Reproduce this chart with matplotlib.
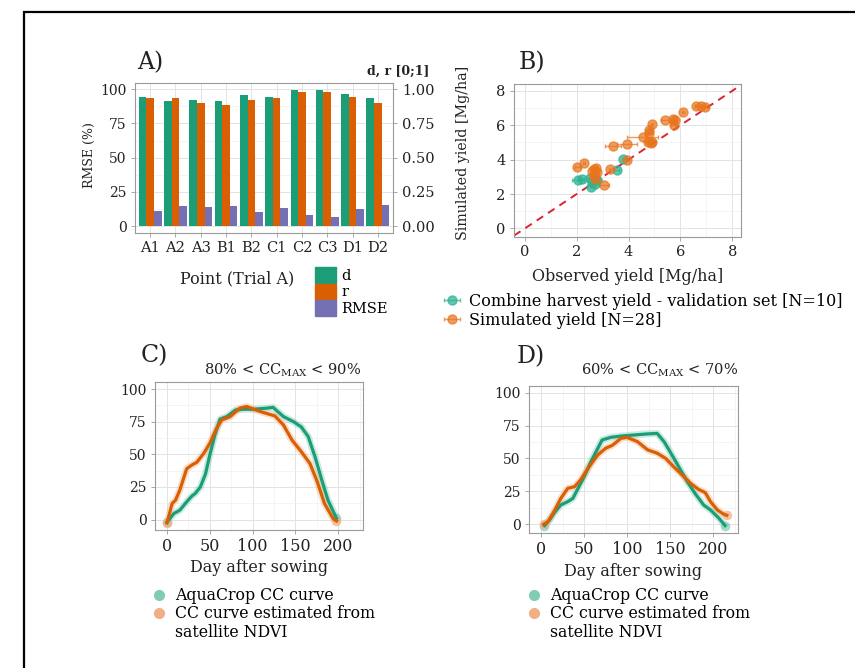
import numpy as np
import matplotlib
matplotlib.use("Agg")
import matplotlib.pyplot as plt
from matplotlib.patches import Rectangle, Patch
from matplotlib.lines import Line2D
from matplotlib.ticker import MultipleLocator

plt.rcParams['font.family'] = ['DejaVu Serif']
plt.rcParams['mathtext.fontset'] = 'dejavuserif'

# ---------------- data ----------------
points   = ["A1", "A2", "A3", "B1", "B2", "C1", "C2", "C3", "D1", "D2"]
d_index  = [0.944, 0.915, 0.922, 0.915, 0.956, 0.944, 0.995, 0.995, 0.963, 0.934]
r_index  = [0.934, 0.934, 0.902, 0.883, 0.922, 0.934, 0.976, 0.976, 0.944, 0.902]
rmse_pct = [11.0, 14.9, 14.1, 14.9, 10.5, 13.4, 7.8, 6.6, 12.4, 15.6]

obs_green  = [3.80, 3.55, 2.05, 2.20, 2.50, 2.70, 2.77, 2.55, 2.70, 2.60]
sim_green  = [4.02, 3.38, 2.80, 2.85, 2.96, 3.00, 2.81, 2.38, 2.60, 2.70]
xerr_green = [0.05, 0.10, 0.25, 0.10, 0.05, 0.10, 0.15, 0.05, 0.05, 0.05]

obs_orange  = [6.60, 6.80, 6.95, 6.10, 5.40, 5.70, 5.75, 4.90, 4.80, 4.80, 4.55, 4.75, 4.90, 3.95,
               3.40, 3.95, 3.30, 2.28, 2.03, 2.65, 2.75, 2.60, 3.05, 2.70, 2.65, 4.85, 5.80, 2.80]
sim_orange  = [7.10, 7.10, 7.05, 6.75, 6.30, 6.35, 6.00, 6.05, 5.70, 5.55, 5.30, 5.00, 5.00, 4.90,
               4.80, 3.98, 3.43, 3.78, 3.55, 3.45, 3.50, 3.35, 2.50, 2.90, 3.05, 4.95, 6.30, 3.30]
xerr_orange = [0.05, 0.25, 0.10, 0.05, 0.15, 0.05, 0.10, 0.05, 0.05, 0.05, 0.60, 0.10, 0.05, 0.38,
               0.32, 0.05, 0.05, 0.05, 0.08, 0.05, 0.05, 0.05, 0.20, 0.05, 0.05, 0.05, 0.05, 0.05]

dayC_aqua = [0, 8, 15, 23, 29, 33, 39, 45, 50, 56, 62, 70, 80, 89, 101, 116, 124, 136, 148, 157, 165, 173, 181, 188, 198]
ccC_aqua  = [-2, 4.6, 7.2, 13.6, 18, 20, 25, 35, 49.5, 65, 77, 79, 84, 84.6, 84.6, 85.4, 86, 79, 75, 71, 63.6, 48, 30, 15, 1]
dayC_ndvi = [0, 6, 10, 15, 23, 29, 35, 43, 50, 58, 64, 74, 85, 93, 109, 126, 136, 146, 157, 167, 175, 184, 194, 198]
ccC_ndvi  = [-2.6, 12.3, 14.9, 22.6, 39, 41.8, 44, 50.8, 58.5, 70, 76.4, 79, 85.4, 86.7, 82.8, 79.5, 72.6, 61, 52, 43, 30, 12.3, 0.8, -1]

dayD_aqua = [4, 10, 15, 23, 31, 37, 42, 50, 58, 66, 71, 81, 93, 108, 123, 135, 143, 151, 160, 170, 179, 189, 197, 207, 214]
ccD_aqua  = [-1, 3.3, 8.4, 14.7, 17.2, 19.7, 26, 36, 47.6, 57.7, 64, 66, 67, 67.8, 68.6, 69, 62.8, 54, 43.8, 32.4, 23.5, 14.7, 10.9, 4.5, -1]
dayD_ndvi = [3, 8, 15, 23, 31, 39, 46, 56, 66, 75, 83, 93, 100, 112, 124, 135, 145, 154, 164, 174, 183, 191, 197, 205, 212, 216]
ccD_ndvi  = [0, 2, 9.6, 19.7, 27.3, 28.6, 33.7, 43.8, 52.7, 57.7, 60, 65.3, 66, 62.8, 56.5, 54, 50, 43.8, 37.5, 31, 26.6, 24, 17.2, 10.9, 7.8, 6.8]

# ---------------- style ----------------
GREEN, ORANGE, PURPLE = "#1b9e77", "#d95f02", "#7570b3"
LGREEN, LORANGE = "#7fcdb4", "#f2ae84"
TXT = "#222222"
W, H = 855, 668

fig = plt.figure(figsize=(W / 100, H / 100), dpi=100)

def px_axes(l, t, r, b):
    return fig.add_axes([l / W, 1 - b / H, (r - l) / W, (b - t) / H])

def light_theme(ax, tsize=10):
    for s in ax.spines.values():
        s.set_color("#9a9a9a")
        s.set_linewidth(0.8)
    ax.set_axisbelow(True)
    ax.grid(True, which="major", color="#e3e3e3", linewidth=0.7)
    ax.grid(True, which="minor", color="#f0f0f0", linewidth=0.5)
    ax.tick_params(which="major", length=3, width=0.6, color="#9a9a9a", labelsize=tsize,
                   labelcolor=TXT, pad=3)
    ax.tick_params(which="minor", length=0)

# outer frame
fig.add_artist(Rectangle((24 / W, -0.1), 2, 1.1 - 12 / H, transform=fig.transFigure,
                         fill=False, edgecolor="black", linewidth=1.6))

# ---------------- A) ----------------
axA = px_axes(135, 83, 393, 233)
x = np.arange(len(points))
axA.bar(x - 0.3, np.array(d_index) * 100, width=0.3, color=GREEN)
axA.bar(x, np.array(r_index) * 100, width=0.3, color=ORANGE)
axA.bar(x + 0.3, rmse_pct, width=0.3, color=PURPLE)
axA.set_xlim(-0.6, 9.6)
axA.set_ylim(-5, 104.5)
axA.set_xticks(x)
axA.set_xticklabels(points)
axA.set_yticks([0, 25, 50, 75, 100])
axA.yaxis.set_minor_locator(MultipleLocator(12.5))
light_theme(axA)
axA.grid(False, which="minor", axis="x")
axA.tick_params(axis="x", labelsize=10.5)
axA.set_ylabel("RMSE (%)", fontsize=9, color=TXT)
axA.yaxis.set_label_coords(-(135 - 96) / 258, 0.52)
axA.set_xlabel("Point (Trial A)", fontsize=11.5, color=TXT)
axA.xaxis.set_label_coords((237 - 135) / 258, -(270 - 233) / 150)
axA2 = axA.twinx()
axA2.set_ylim(-0.05, 1.045)
axA2.set_yticks([0, 0.25, 0.5, 0.75, 1.0])
axA2.set_yticklabels(["0.00", "0.25", "0.50", "0.75", "1.00"])
axA2.tick_params(length=3, width=0.6, color="#9a9a9a", labelsize=10.5, labelcolor=TXT)
for s in axA2.spines.values():
    s.set_visible(False)
axA.text(1.02, 1.075, "d, r [0;1]", transform=axA.transAxes, ha="center", va="center",
         fontsize=9, fontweight="bold", color=TXT)
fig.text(137 / W, 1 - 63 / H, "A)", fontsize=17, va="center", ha="left", color=TXT)
fig.legend(handles=[Patch(color=GREEN), Patch(color=ORANGE), Patch(color=PURPLE)],
           labels=["d", "r", "RMSE"], loc="upper left",
           bbox_to_anchor=(315 / W, 1 - 267 / H), frameon=False, fontsize=10.5,
           handlelength=1.45, handleheight=1.3, labelspacing=0.05, handletextpad=0.35,
           borderpad=0, borderaxespad=0)

# ---------------- B) ----------------
axB = px_axes(514, 84, 741, 237)
eg = axB.errorbar(obs_green, sim_green, xerr=xerr_green, fmt="o", color="#2fb394", alpha=0.75,
                  ms=6.5, elinewidth=1.0, capsize=1.5, label="Combine harvest yield - validation set [N=10]")
eo = axB.errorbar(obs_orange, sim_orange, xerr=xerr_orange, fmt="o", color="#e8741c", alpha=0.7,
                  ms=6.5, elinewidth=1.0, capsize=1.5, label="Simulated yield [N=28]")
axB.axline((0, 0), slope=1, color="#dc2335", linestyle=(0, (4, 3)), linewidth=1.4)
axB.set_xlim(-0.42, 8.34)
axB.set_ylim(-0.5, 8.4)
axB.set_xticks([0, 2, 4, 6, 8])
axB.set_yticks([0, 2, 4, 6, 8])
axB.xaxis.set_minor_locator(MultipleLocator(1))
axB.yaxis.set_minor_locator(MultipleLocator(1))
light_theme(axB, tsize=10.5)
axB.set_xlabel("Observed yield [Mg/ha]", fontsize=11.5, color=TXT, labelpad=6)
axB.set_ylabel("Simulated yield [Mg/ha]", fontsize=10.3, color=TXT)
axB.yaxis.set_label_coords(-(514 - 470) / 227, 0.55)
fig.text(519 / W, 1 - 63 / H, "B)", fontsize=17, va="center", ha="left", color=TXT)
fig.legend(handles=[eg, eo], labels=[eg.get_label(), eo.get_label()], loc="upper left",
           bbox_to_anchor=(443 / W, 1 - 293 / H), frameon=False, fontsize=11.5,
           handlelength=1.1, labelspacing=0.12, handletextpad=0.5, borderpad=0, borderaxespad=0)

# ---------------- C) and D) ----------------
def cc_panel(rect, days_a, cc_a, days_n, cc_n, ylim, title, letter, letter_xy, title_xy, leg_xy):
    ax = px_axes(*rect)
    for d, c, light in [(days_a, cc_a, LGREEN), (days_n, cc_n, LORANGE)]:
        ax.plot([d[0], d[-1]], [c[0], c[-1]], "o", color=light, alpha=0.6, ms=6, zorder=2)
        ax.plot(d, c, color=light, alpha=0.4, lw=5, solid_capstyle="round", zorder=2)
    ax.plot(days_a, cc_a, color=GREEN, lw=2.3, zorder=3)
    ax.plot(days_n, cc_n, color=ORANGE, lw=2.3, zorder=4)
    ax.set_xlim(-14, 229)
    ax.set_ylim(*ylim)
    ax.set_xticks([0, 50, 100, 150, 200])
    ax.set_yticks([0, 25, 50, 75, 100])
    ax.xaxis.set_minor_locator(MultipleLocator(25))
    ax.yaxis.set_minor_locator(MultipleLocator(12.5))
    light_theme(ax)
    ax.tick_params(axis="x", labelsize=11.5)
    ax.set_xlabel("Day after sowing", fontsize=11.5, color=TXT, labelpad=3)
    fig.text(letter_xy[0] / W, 1 - letter_xy[1] / H, letter, fontsize=17, va="center", ha="left", color=TXT)
    fig.text(title_xy[0] / W, 1 - title_xy[1] / H, title, fontsize=10.5, va="center", ha="center", color=TXT)
    handles = [Line2D([], [], marker="o", ls="", color=LGREEN, ms=7),
               Line2D([], [], marker="o", ls="", color=LORANGE, ms=7),
               Line2D([], [], marker="", ls="")]
    fig.legend(handles=handles,
               labels=["AquaCrop CC curve", "CC curve estimated from", "satellite NDVI"],
               loc="upper left", bbox_to_anchor=(leg_xy[0] / W, 1 - leg_xy[1] / H), frameon=False,
               fontsize=11.3, handlelength=0.8, labelspacing=0.08, handletextpad=0.6,
               borderpad=0, borderaxespad=0)
    return ax

cc_panel((155, 382, 363, 530), dayC_aqua, ccC_aqua, dayC_ndvi, ccC_ndvi, (-8, 105.5),
         "80% < CC$_{\\mathrm{MAX}}$ < 90%", "C)", (141, 356), (283, 370), (153, 587))
cc_panel((529, 386, 738, 533), dayD_aqua, ccD_aqua, dayD_ndvi, ccD_ndvi, (-6.6, 105),
         "60% < CC$_{\\mathrm{MAX}}$ < 70%", "D)", (517, 357), (660, 370), (528, 587))

fig.savefig("out.png", dpi=100, facecolor="white")
